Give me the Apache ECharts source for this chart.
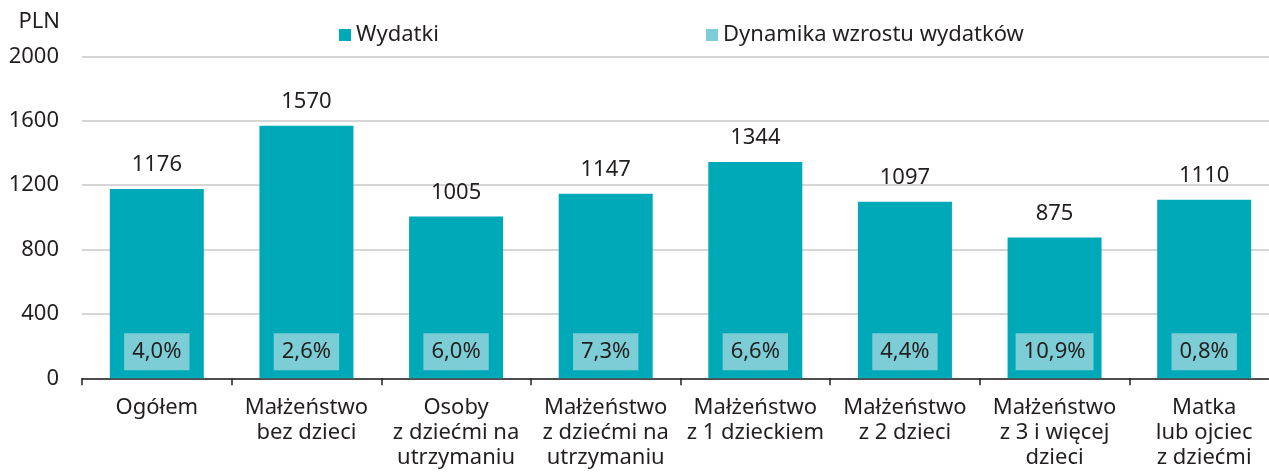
<!DOCTYPE html>
<html><head><meta charset="utf-8">
<script src="https://cdn.jsdelivr.net/npm/echarts@6/dist/echarts.min.js"></script>
<style>html,body{margin:0;padding:0;background:#fff;overflow:hidden}#c{width:1279px;height:473px}</style>
</head><body><div id="c"></div>
<script>
const categories = ['Ogółem','Małżeństwo\nbez dzieci','Osoby\nz dziećmi na\nutrzymaniu','Małżeństwo\nz dziećmi na\nutrzymaniu','Małżeństwo\nz 1 dzieckiem','Małżeństwo\nz 2 dzieci','Małżeństwo\nz 3 i więcej\ndzieci','Matka\nlub ojciec\nz dziećmi'];
const wydatki = [1176, 1570, 1005, 1147, 1344, 1097, 875, 1110];
const dynamika = [4.0, 2.6, 6.0, 7.3, 6.6, 4.4, 10.9, 0.8];
const yTicks = [0, 400, 800, 1200, 1600, 2000];

const FONT = '"Noto Sans", sans-serif';
const FS = 22;
const TXT = '#231f20';
const legendBase = {
  top: 19, itemWidth: 12, itemHeight: 12, icon: 'rect',
  textStyle: {fontSize: FS, color: TXT, fontFamily: FONT}
};
const chart = echarts.init(document.getElementById('c'));
chart.setOption({
  animation: false,
  textStyle: {fontFamily: FONT},
  legend: [
    Object.assign({left: 334, data: [{name: 'Wydatki'}]}, legendBase),
    Object.assign({left: 701, data: [{name: 'Dynamika wzrostu wydatków', itemStyle: {color: '#7ccdd5'}}]}, legendBase)
  ],
  grid: {left: 82, right: 0, top: 56.5, bottom: 94.7, containLabel: false},
  xAxis: {
    type: 'category', data: categories,
    axisLine: {lineStyle: {color: '#231f20', width: 1.5}},
    axisTick: {show: true, length: 7, lineStyle: {color: '#231f20', width: 1.5}},
    axisLabel: {interval: 0, fontSize: FS, lineHeight: 25, color: TXT, margin: 17, fontFamily: FONT}
  },
  yAxis: [{
    type: 'value', min: yTicks[0], max: yTicks[yTicks.length-1], interval: 400,
    name: 'PLN', nameLocation: 'end', nameGap: 24,
    nameTextStyle: {fontSize: FS, color: TXT, align: 'right', padding: [0, 22, 0, 0], fontFamily: FONT},
    axisLine: {show: false}, axisTick: {show: false},
    axisLabel: {fontSize: FS, color: TXT, margin: 23, fontFamily: FONT, formatter: v => String(v)},
    splitLine: {lineStyle: {color: '#c8c8c8', width: 1.5}}
  }, {
    type: 'value', min: 0, max: 100, show: false, splitLine: {show: false}
  }],
  series: [{
    name: 'Wydatki', type: 'bar', data: wydatki, barWidth: 94, barGap: '-100%',
    itemStyle: {color: '#00a9b8'},
    label: {show: true, position: 'top', distance: 13, fontSize: FS, color: TXT, fontFamily: FONT}
  }, {
    name: 'Dynamika wzrostu wydatków', type: 'bar', yAxisIndex: 1, data: dynamika, barWidth: 94,
    itemStyle: {color: 'rgba(0,0,0,0)'},
    label: {
      show: true, position: 'insideBottom', distance: 8, fontSize: FS, lineHeight: 25, color: TXT,
      backgroundColor: '#7ccdd5', padding: [6, 8, 6, 8], fontFamily: FONT,
      formatter: p => p.value.toFixed(1).replace('.', ',') + '%'
    }
  }]
});
</script></body></html>
